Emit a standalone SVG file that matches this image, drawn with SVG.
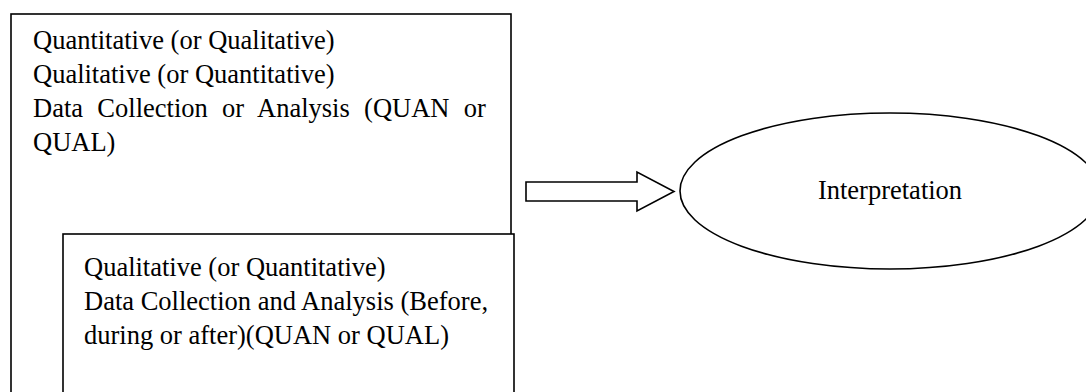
<svg xmlns="http://www.w3.org/2000/svg" width="1086" height="392" viewBox="0 0 1086 392">
  <style>
    .box { fill: #ffffff; stroke: #000000; stroke-width: 1.6; }
    .txt { font-family: "Liberation Serif", "Times New Roman", serif; font-size: 26.5px; fill: #000000; }
    .conn { fill: #ffffff; stroke: #000000; stroke-width: 1.6; stroke-linejoin: miter; }
  </style>
  <rect x="0" y="0" width="1086" height="392" fill="#ffffff"/>
  <g id="node-quan">
    <rect class="box" x="11" y="14" width="500" height="400"/>
    <text class="txt" x="33" y="49">Quantitative (or Qualitative)</text>
    <text class="txt" x="33" y="83">Qualitative (or Quantitative)</text>
    <text class="txt" x="33" y="117" word-spacing="7.7">Data Collection or Analysis (QUAN or</text>
    <text class="txt" x="33" y="151">QUAL)</text>
  </g>
  <g id="node-qual">
    <rect class="box" x="63" y="234" width="451" height="180"/>
    <text class="txt" x="84" y="276">Qualitative (or Quantitative)</text>
    <text class="txt" x="84" y="310">Data Collection and Analysis (Before,</text>
    <text class="txt" x="84" y="344">during or after)(QUAN or QUAL)</text>
  </g>
  <g id="node-interpretation">
    <ellipse class="box" cx="890" cy="191" rx="210" ry="78"/>
    <text class="txt" x="890" y="199" text-anchor="middle">Interpretation</text>
  </g>
  <g id="connectors">
    <polygon class="conn" points="526,182 637,182 637,172 674,191.5 637,211 637,201 526,201"/>
  </g>
</svg>
